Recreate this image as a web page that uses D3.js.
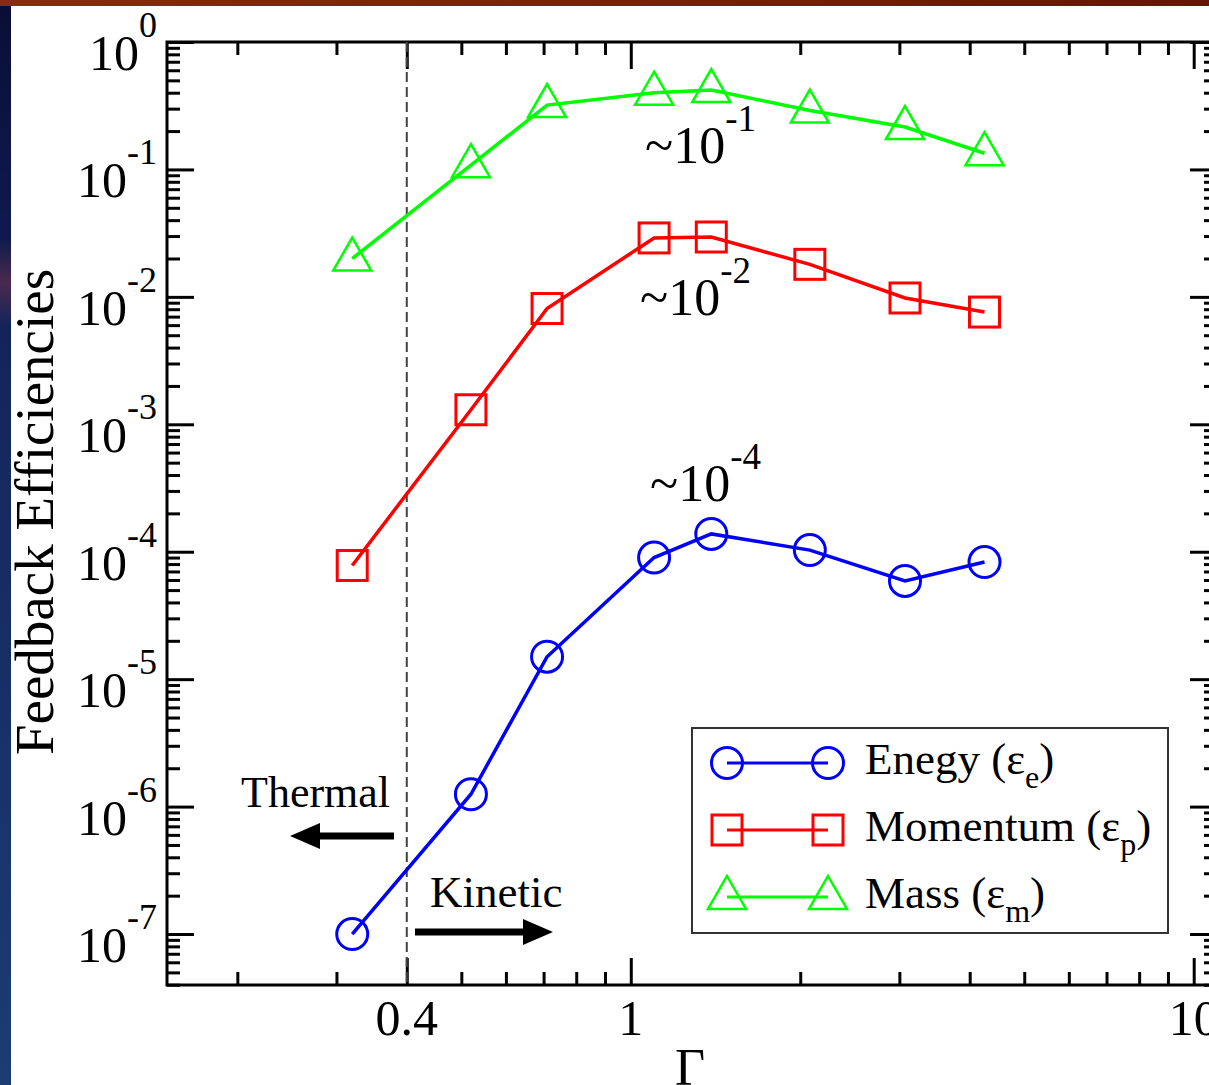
<!DOCTYPE html>
<html>
<head>
<meta charset="utf-8">
<script src="https://cdn.jsdelivr.net/npm/d3@7"></script>
<style>
  html, body { margin: 0; padding: 0; background: #ffffff; }
  svg { display: block; }
  text { font-family: "Liberation Serif", "DejaVu Serif", serif; fill: #000; }
</style>
</head>
<body>
<div id="canvas"></div>
<script>
// data
const gamma = [0.32, 0.52, 0.71, 1.1, 1.39, 2.08, 3.07, 4.25];
const energy = [1.0e-7, 1.25e-6, 1.5e-5, 9.0e-5, 1.38e-4, 1.03e-4, 5.9e-5, 8.3e-5];
const momentum = [7.8e-5, 1.3e-3, 8.1e-3, 0.029, 0.0295, 0.018, 0.0098, 0.0076];
const mass = [0.020, 0.108, 0.32, 0.40, 0.42, 0.29, 0.215, 0.134];

const seriesNames = ["Enegy", "Momentum", "Mass"];
const seriesSubs = ["e", "p", "m"];
const xMajorTicks = [0.4, 1, 10];
const xTickLabels = ["0.4", "1", "10"];
const yExponents = [0, -1, -2, -3, -4, -5, -6, -7];
const notes = [["~10", "-1"], ["~10", "-2"], ["~10", "-4"]];
const thresholdGamma = 0.4;

const width = 1209, height = 1085;
const frame = { left: 167, top: 42, right: 1217, bottom: 985 };

const svg = d3.select("#canvas").append("svg")
  .attr("width", width).attr("height", height);

// slide background bits
const defs = svg.append("defs");
const lg = defs.append("linearGradient").attr("id", "side").attr("x1", 0).attr("y1", 0).attr("x2", 0).attr("y2", 1);
lg.append("stop").attr("offset", "0%").attr("stop-color", "#0a0e36");
lg.append("stop").attr("offset", "22%").attr("stop-color", "#0e1a4e");
lg.append("stop").attr("offset", "26%").attr("stop-color", "#4a2a4e");
lg.append("stop").attr("offset", "30%").attr("stop-color", "#14245a");
lg.append("stop").attr("offset", "100%").attr("stop-color", "#1c3c74");
const tg = defs.append("linearGradient").attr("id", "topstrip").attr("x1", 0).attr("y1", 0).attr("x2", 1).attr("y2", 0);
tg.append("stop").attr("offset", "0%").attr("stop-color", "#8a2a10");
tg.append("stop").attr("offset", "100%").attr("stop-color", "#6a1406");

svg.append("rect").attr("x", 0).attr("y", 0).attr("width", 11).attr("height", height).attr("fill", "url(#side)");
svg.append("rect").attr("x", 0).attr("y", 0).attr("width", width).attr("height", 6).attr("fill", "url(#topstrip)");

const x = d3.scaleLog().domain([0.15, 11]).range([frame.left, frame.right]);
const y = d3.scaleLog().domain([Math.pow(10, -7.4), 1]).range([frame.bottom, frame.top]);

// minor tick values
const xMinor = [];
[0.1, 1].forEach(d => { for (let k = 2; k <= 9; k++) xMinor.push(k * d); });
const xMinorTicks = xMinor.filter(v => v >= 0.15 && v <= 11 && !xMajorTicks.some(m => Math.abs(m - v) < 1e-9));
const yMinorTicks = [];
for (let e = -8; e < 0; e++) for (let k = 2; k <= 9; k++) {
  const v = k * Math.pow(10, e);
  if (v >= Math.pow(10, -7.4) && v < 1) yMinorTicks.push(v);
}
const yMajorTicks = yExponents.map(e => Math.pow(10, e));

function styleAxis(g) {
  g.select(".domain").remove();
  g.selectAll(".tick line").attr("stroke", "#000").attr("stroke-width", 3);
  g.selectAll(".tick text").remove();
}

const axes = svg.append("g");
axes.append("g").attr("transform", `translate(0,${frame.bottom})`)
  .call(d3.axisBottom(x).tickValues(xMajorTicks).tickSize(-27).tickFormat("")).call(styleAxis);
axes.append("g").attr("transform", `translate(0,${frame.bottom})`)
  .call(d3.axisBottom(x).tickValues(xMinorTicks).tickSize(-13).tickFormat("")).call(styleAxis);
axes.append("g").attr("transform", `translate(0,${frame.top})`)
  .call(d3.axisTop(x).tickValues(xMajorTicks).tickSize(-27).tickFormat("")).call(styleAxis);
axes.append("g").attr("transform", `translate(0,${frame.top})`)
  .call(d3.axisTop(x).tickValues(xMinorTicks).tickSize(-13).tickFormat("")).call(styleAxis);
axes.append("g").attr("transform", `translate(${frame.left},0)`)
  .call(d3.axisLeft(y).tickValues(yMajorTicks).tickSize(-27).tickFormat("")).call(styleAxis);
axes.append("g").attr("transform", `translate(${frame.left},0)`)
  .call(d3.axisLeft(y).tickValues(yMinorTicks).tickSize(-13).tickFormat("")).call(styleAxis);
axes.append("g").attr("transform", `translate(${frame.right},0)`)
  .call(d3.axisRight(y).tickValues(yMajorTicks).tickSize(-27).tickFormat("")).call(styleAxis);
axes.append("g").attr("transform", `translate(${frame.right},0)`)
  .call(d3.axisRight(y).tickValues(yMinorTicks).tickSize(-13).tickFormat("")).call(styleAxis);

axes.append("rect")
  .attr("x", frame.left).attr("y", frame.top)
  .attr("width", frame.right - frame.left).attr("height", frame.bottom - frame.top)
  .attr("fill", "none").attr("stroke", "#000").attr("stroke-width", 3);

// tick labels
xMajorTicks.forEach((v, i) => {
  svg.append("text").attr("x", x(v)).attr("y", 1035)
    .attr("text-anchor", "middle").style("font-size", "50px").text(xTickLabels[i]);
});
yExponents.forEach(e => {
  const t = svg.append("text").attr("x", 157).attr("y", y(Math.pow(10, e)) + 28)
    .attr("text-anchor", "end").style("font-size", "50px");
  t.append("tspan").text("10");
  t.append("tspan").attr("dy", -33).style("font-size", "36px").text(String(e));
});

// axis titles
svg.append("text")
  .attr("transform", "translate(53,512) rotate(-90)")
  .attr("text-anchor", "middle").style("font-size", "55px")
  .text("Feedback Efficiencies");
svg.append("text").attr("x", 690).attr("y", 1085)
  .attr("text-anchor", "middle").style("font-size", "52px").text("Γ");

// threshold line
svg.append("line")
  .attr("x1", x(thresholdGamma)).attr("x2", x(thresholdGamma))
  .attr("y1", frame.top).attr("y2", frame.bottom)
  .attr("stroke", "#444").attr("stroke-width", 2).attr("stroke-dasharray", "10,5");

// thermal / kinetic arrows
function arrow(x0, x1, yy) {
  const dir = Math.sign(x1 - x0);
  const hb = x1 - dir * 30;
  return `M${x0},${yy - 3.5}L${hb},${yy - 3.5}L${hb},${yy - 13}L${x1},${yy}L${hb},${yy + 13}L${hb},${yy + 3.5}L${x0},${yy + 3.5}Z`;
}
svg.append("text").attr("x", 241).attr("y", 807).style("font-size", "44px").text("Thermal");
svg.append("path").attr("d", arrow(394, 290, 836)).attr("fill", "#000");
svg.append("text").attr("x", 430).attr("y", 907).style("font-size", "45px").text("Kinetic");
svg.append("path").attr("d", arrow(415, 553, 932)).attr("fill", "#000");

// series
const colors = ["#0000ff", "#ff0000", "#00ff00"];
const symbols = ["circle", "square", "triangle"];
const seriesVals = [energy, momentum, mass];

function drawMarker(g, sym, cx, cy, color) {
  if (sym === "circle") {
    g.append("circle").attr("cx", cx).attr("cy", cy).attr("r", 15.5)
      .attr("fill", "none").attr("stroke", color).attr("stroke-width", 3);
  } else if (sym === "square") {
    g.append("rect").attr("x", cx - 15).attr("y", cy - 15).attr("width", 30).attr("height", 30)
      .attr("fill", "none").attr("stroke", color).attr("stroke-width", 3);
  } else {
    g.append("path").attr("d", `M${cx},${cy - 21}L${cx + 19},${cy + 12}L${cx - 19},${cy + 12}Z`)
      .attr("fill", "none").attr("stroke", color).attr("stroke-width", 2.5);
  }
}

const line = d3.line().x(d => x(d[0])).y(d => y(d[1]));
seriesVals.forEach((vals, i) => {
  const pts = gamma.map((g, j) => [g, vals[j]]);
  const g = svg.append("g");
  g.append("path").attr("d", line(pts)).attr("fill", "none")
    .attr("stroke", colors[i]).attr("stroke-width", 3.5);
  pts.forEach(p => drawMarker(g, symbols[i], x(p[0]), y(p[1]), colors[i]));
});

// order-of-magnitude notes
const notePos = [[645, 163], [640, 315], [650, 501]];
notes.forEach((n, i) => {
  const t = svg.append("text").attr("x", notePos[i][0]).attr("y", notePos[i][1]).style("font-size", "52px");
  t.append("tspan").text(n[0]);
  t.append("tspan").attr("dy", -32).style("font-size", "37px").text(n[1]);
});

// legend
const leg = svg.append("g");
leg.append("rect").attr("x", 692).attr("y", 728).attr("width", 476).attr("height", 205)
  .attr("fill", "#fff").attr("stroke", "#333").attr("stroke-width", 2);
const rowY = [763, 830, 897];
seriesNames.forEach((name, i) => {
  leg.append("line").attr("x1", 727).attr("x2", 828).attr("y1", rowY[i]).attr("y2", rowY[i])
    .attr("stroke", colors[i]).attr("stroke-width", 3);
  drawMarker(leg, symbols[i], 727, rowY[i], colors[i]);
  drawMarker(leg, symbols[i], 828, rowY[i], colors[i]);
  const t = leg.append("text").attr("x", 865).attr("y", rowY[i] + 11).style("font-size", "45px");
  t.append("tspan").text(name + " (ε");
  t.append("tspan").attr("dy", 14).style("font-size", "32px").text(seriesSubs[i]);
  t.append("tspan").attr("dy", -14).text(")");
});
</script>
</body>
</html>
